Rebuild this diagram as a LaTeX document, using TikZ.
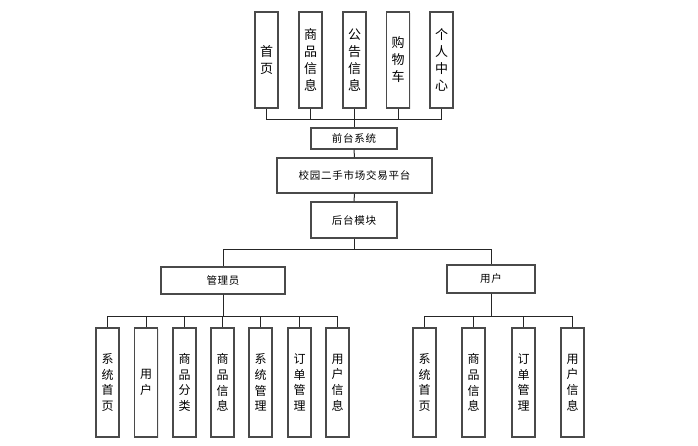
\documentclass[tikz,border=0pt]{standalone}
\usepackage{fontspec}
\setmainfont{Noto Sans CJK SC}
\newfontfamily\midfont[LetterSpace=7]{Noto Sans CJK SC}
\usetikzlibrary{shadows}
\definecolor{bordergray}{HTML}{4A4A4A}
\tikzset{
  box/.style={draw=bordergray, line width=1.3pt, fill=white, rectangle, inner sep=0pt, align=center,
    drop shadow={opacity=0.15, shadow xshift=1.2pt, shadow yshift=-1.2pt}},
  topbox/.style={box, minimum width=23pt, minimum height=96pt, font=\fontsize{13}{17}\selectfont},
  midbox/.style={box, font=\midfont\fontsize{10.5}{12}\selectfont},
  leafbox/.style={box, minimum width=23pt, minimum height=109pt, font=\fontsize{12}{15.7}\selectfont},
  conn/.style={draw=black!85, line width=1pt},
}
\begin{document}
\begin{tikzpicture}[x=1pt,y=-1pt]
\useasboundingbox (0,0) rectangle (698,445);
% top row
\node[topbox] (t1) at (266.5,60) {首\\页};
\node[topbox] (t2) at (310.5,60) {商\\品\\信\\息};
\node[topbox] (t3) at (354.5,60) {公\\告\\信\\息};
\node[topbox] (t4) at (398,60) {购\\物\\车};
\node[topbox] (t5) at (441.5,60) {个\\人\\中\\心};
% middle
\node[midbox, minimum width=86pt, minimum height=21pt] (qt) at (354,138.5) {前台系统};
\node[midbox, minimum width=155pt, minimum height=35pt] (pt) at (354.5,175.5) {校园二手市场交易平台};
\node[midbox, minimum width=86pt, minimum height=36pt] (ht) at (354,220) {后台模块};
\node[midbox, minimum width=124pt, minimum height=27pt] (adm) at (223,280.5) {管理员};
\node[midbox, minimum width=88pt, minimum height=28pt] (usr) at (491,279) {用户};
% admin leaves
\node[leafbox] (a1) at (107.5,382.5) {系\\统\\首\\页};
\node[leafbox] (a2) at (146,382.5) {用\\户};
\node[leafbox] (a3) at (184.5,382.5) {商\\品\\分\\类};
\node[leafbox] (a4) at (222.5,382.5) {商\\品\\信\\息};
\node[leafbox] (a5) at (260.5,382.5) {系\\统\\管\\理};
\node[leafbox] (a6) at (299.5,382.5) {订\\单\\管\\理};
\node[leafbox] (a7) at (337.5,382.5) {用\\户\\信\\息};
% user leaves
\node[leafbox] (u1) at (424.5,382.5) {系\\统\\首\\页};
\node[leafbox] (u2) at (473.5,382.5) {商\\品\\信\\息};
\node[leafbox] (u3) at (523.5,382.5) {订\\单\\管\\理};
\node[leafbox] (u4) at (572.5,382.5) {用\\户\\信\\息};
% connectors
\foreach \n in {t1,t2,t3,t4,t5}
  \draw[conn] (\n.south) -- ++(0,11) -| (qt.north);
\draw[conn] (qt.south) -- (pt.north);
\draw[conn] (pt.south) -- (ht.north);
\draw[conn] (ht.south) -- ++(0,11) -| (adm.north);
\draw[conn] (ht.south) -- ++(0,11) -| (usr.north);
\foreach \n in {a1,a2,a3,a4,a5,a6,a7}
  \draw[conn] (adm.south) -- ++(0,22) -| (\n.north);
\foreach \n in {u1,u2,u3,u4}
  \draw[conn] (usr.south) -- ++(0,23) -| (\n.north);
\end{tikzpicture}
\end{document}
